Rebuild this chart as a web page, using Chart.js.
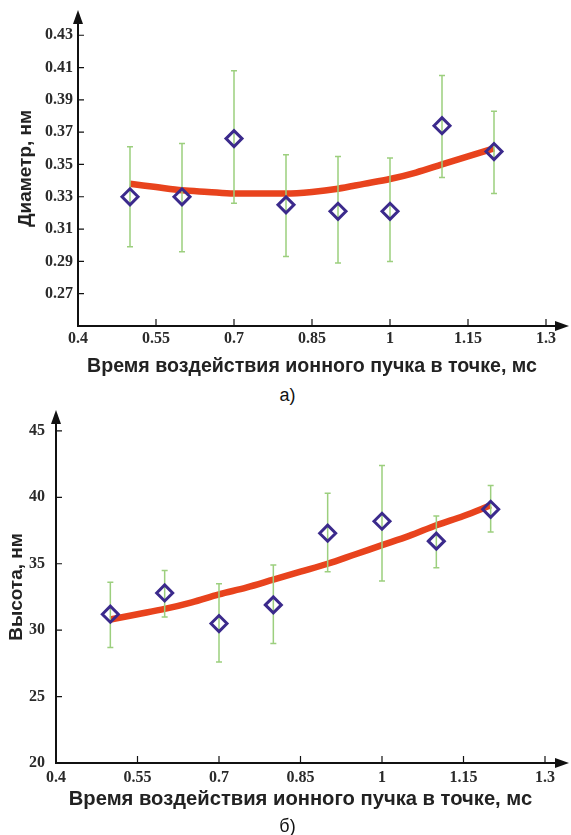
<!DOCTYPE html>
<html>
<head>
<meta charset="utf-8">
<script src="https://cdn.jsdelivr.net/npm/chart.js@4.4.1/dist/chart.umd.min.js"></script>
<style>
  body { margin: 0; background: #fff; }
  #wrap { position: relative; width: 571px; height: 835px; }
  canvas { position: absolute; left: 0; }
  .cap { position: absolute; left: 2px; width: 571px; text-align: center;
         font: 18px "Liberation Sans", Arial, sans-serif; color: #111; }
</style>
</head>
<body>
<div id="wrap">
  <canvas id="diamChart" width="571" height="380" style="top:0"></canvas>
  <div class="cap" style="top:385px">а)</div>
  <canvas id="heightChart" width="571" height="420" style="top:400px"></canvas>
  <div class="cap" style="top:816px">б)</div>
</div>
<script>
// x positions of the measurements, ms
const times = [0.5, 0.6, 0.7, 0.8, 0.9, 1.0, 1.1, 1.2];
const xTicks = [0.4, 0.55, 0.7, 0.85, 1, 1.15, 1.3];

// a) diameter, nm
const diameter = [0.330, 0.330, 0.366, 0.325, 0.321, 0.321, 0.374, 0.358];
const diameterLow = [0.299, 0.296, 0.326, 0.293, 0.289, 0.290, 0.342, 0.332];
const diameterHigh = [0.361, 0.363, 0.408, 0.356, 0.355, 0.354, 0.405, 0.383];
const fitTimes = [0.5, 0.55, 0.6, 0.65, 0.7, 0.75, 0.8, 0.85, 0.9, 0.95, 1.0, 1.05, 1.1, 1.15, 1.2];
const diameterFit = [0.338, 0.336, 0.334, 0.333, 0.332, 0.332, 0.332, 0.333, 0.335, 0.338, 0.341, 0.345, 0.350, 0.355, 0.360];
const diameterTicks = [0.27, 0.29, 0.31, 0.33, 0.35, 0.37, 0.39, 0.41, 0.43];

// б) height, nm
const heightVals = [31.2, 32.8, 30.5, 31.9, 37.3, 38.2, 36.7, 39.1];
const heightLow = [28.7, 31.0, 27.6, 29.0, 34.4, 33.7, 34.7, 37.4];
const heightHigh = [33.6, 34.5, 33.5, 34.9, 40.3, 42.4, 38.6, 40.9];
const heightFit = [30.8, 31.2, 31.6, 32.1, 32.7, 33.2, 33.8, 34.4, 35.0, 35.7, 36.4, 37.1, 37.9, 38.6, 39.4];
const heightTicks = [20, 25, 30, 35, 40, 45];

const xTitle = 'Время воздействия ионного пучка в точке, мс';

// error bars (drawn over the fit line, under the markers) + arrow axes
function figurePlugin(low, high) {
    return {
        id: 'figure',
        afterDatasetDraw(chart, args) {
            if (args.index !== 1) return;
            const { ctx, scales: { x, y } } = chart;
            ctx.save();
            ctx.strokeStyle = '#9ccf7e';
            ctx.lineWidth = 1.5;
            times.forEach((t, i) => {
                const px = x.getPixelForValue(t);
                const y1 = y.getPixelForValue(low[i]);
                const y2 = y.getPixelForValue(high[i]);
                ctx.beginPath();
                ctx.moveTo(px, y1); ctx.lineTo(px, y2);
                ctx.moveTo(px - 3, y1); ctx.lineTo(px + 3, y1);
                ctx.moveTo(px - 3, y2); ctx.lineTo(px + 3, y2);
                ctx.stroke();
            });
            ctx.restore();
        },
        afterDraw(chart) {
            const { ctx, chartArea: a, scales: { x, y } } = chart;
            ctx.save();
            ctx.strokeStyle = '#111';
            ctx.fillStyle = '#111';
            ctx.lineWidth = 2;
            ctx.beginPath();
            ctx.moveTo(a.left, a.top + 10);
            ctx.lineTo(a.left, a.bottom);
            ctx.lineTo(chart.width - 12, a.bottom);
            ctx.stroke();
            // arrow heads
            ctx.beginPath();
            ctx.moveTo(a.left, a.top - 1);
            ctx.lineTo(a.left - 5, a.top + 13);
            ctx.lineTo(a.left + 5, a.top + 13);
            ctx.closePath();
            ctx.fill();
            ctx.beginPath();
            ctx.moveTo(chart.width - 2, a.bottom);
            ctx.lineTo(chart.width - 16, a.bottom - 5);
            ctx.lineTo(chart.width - 16, a.bottom + 5);
            ctx.closePath();
            ctx.fill();
            // inward tick marks
            ctx.lineWidth = 1.2;
            ctx.beginPath();
            xTicks.slice(1).forEach(v => {
                const px = x.getPixelForValue(v);
                ctx.moveTo(px, a.bottom);
                ctx.lineTo(px, a.bottom - 7);
            });
            y.ticks.forEach(t => {
                const py = y.getPixelForValue(t.value);
                ctx.moveTo(a.left, py);
                ctx.lineTo(a.left + 6, py);
            });
            ctx.stroke();
            ctx.restore();
        }
    };
}

function makeChart(id, cfg) {
    return new Chart(document.getElementById(id).getContext('2d'), {
        type: 'scatter',
        data: {
            datasets: [
                {
                    label: 'data',
                    data: times.map((t, i) => ({ x: t, y: cfg.values[i] })),
                    pointStyle: 'rectRot',
                    pointRadius: 8,
                    pointBorderWidth: 3,
                    pointBorderColor: '#3b2a8c',
                    pointBackgroundColor: 'rgba(255,255,255,0)',
                    showLine: false
                },
                {
                    label: 'fit',
                    data: fitTimes.map((t, i) => ({ x: t, y: cfg.fit[i] })),
                    showLine: true,
                    borderColor: '#e8431d',
                    borderWidth: 6.5,
                    pointRadius: 0,
                    tension: 0.4,
                    cubicInterpolationMode: 'monotone'
                }
            ]
        },
        options: {
            responsive: false,
            animation: false,
            layout: { padding: { top: 8, right: cfg.padRight, left: 0, bottom: 0 } },
            plugins: { legend: { display: false }, tooltip: { enabled: false } },
            scales: {
                x: {
                    type: 'linear',
                    min: 0.4,
                    max: 1.3,
                    afterBuildTicks: s => { s.ticks = xTicks.map(v => ({ value: v })); },
                    afterFit: s => { s.height = cfg.xHeight; s.paddingLeft = 0; s.paddingRight = 0; },
                    grid: { display: false, drawTicks: false },
                    border: { display: false },
                    ticks: {
                        padding: cfg.xPad,
                        color: '#2a2a2a',
                        font: { family: '"Liberation Serif", "Times New Roman", serif', size: 16, weight: 'bold' },
                        callback: v => String(v)
                    },
                    title: {
                        display: true,
                        text: xTitle,
                        color: '#222',
                        padding: { top: 0, bottom: cfg.xTitlePad },
                        font: { family: '"Liberation Sans", Arial, sans-serif', size: cfg.xTitleSize, weight: 'bold' }
                    }
                },
                y: {
                    min: cfg.yMin,
                    max: cfg.yMax,
                    afterBuildTicks: s => { s.ticks = cfg.yTicks.map(v => ({ value: v })); },
                    afterFit: s => { s.width = cfg.yWidth; s.paddingTop = 0; s.paddingBottom = 0; },
                    grid: { display: false, drawTicks: false },
                    border: { display: false },
                    ticks: {
                        padding: cfg.yPad,
                        color: '#2a2a2a',
                        font: { family: '"Liberation Serif", "Times New Roman", serif', size: 16, weight: 'bold' },
                        callback: v => String(v)
                    },
                    title: {
                        display: true,
                        text: cfg.yTitle,
                        color: '#222',
                        padding: { top: cfg.yTitlePad, bottom: 0 },
                        font: { family: '"Liberation Sans", Arial, sans-serif', size: 19, weight: 'bold' }
                    }
                }
            }
        },
        plugins: [figurePlugin(cfg.low, cfg.high)]
    });
}

const diamChart = makeChart('diamChart', {
    values: diameter, low: diameterLow, high: diameterHigh, fit: diameterFit,
    yTicks: diameterTicks, yMin: 0.25, yMax: 0.445, yTitle: 'Диаметр, нм',
    yWidth: 78, yPad: 5, yTitlePad: 14, padRight: 25,
    xHeight: 54, xPad: 3, xTitlePad: 2, xTitleSize: 19.6
});

const heightChart = makeChart('heightChart', {
    values: heightVals, low: heightLow, high: heightHigh, fit: heightFit,
    yTicks: heightTicks, yMin: 20, yMax: 46.5, yTitle: 'Высота, нм',
    yWidth: 56, yPad: 11, yTitlePad: 5, padRight: 26,
    xHeight: 57, xPad: 5, xTitlePad: 8, xTitleSize: 20.2
});
</script>
</body>
</html>
